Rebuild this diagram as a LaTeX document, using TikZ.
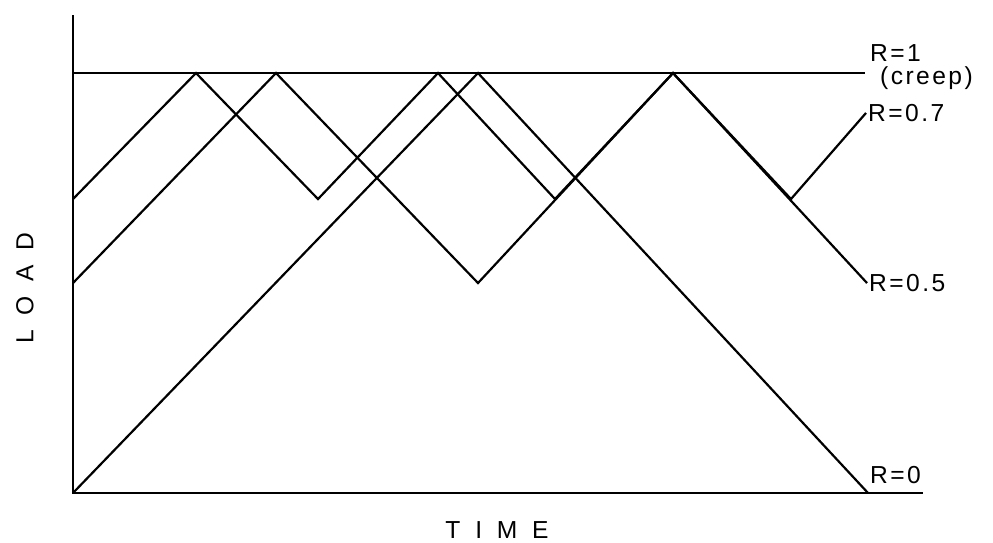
\documentclass[tikz,border=0pt]{standalone}
\usepackage{fontspec}
\setmainfont{Liberation Sans}
\newfontfamily\lblfont[LetterSpace=10]{Liberation Sans}
\newfontfamily\axfont[LetterSpace=60]{Liberation Sans}
\usetikzlibrary{positioning, calc}

\begin{document}
\begin{tikzpicture}[x=0.02cm, y=8.4cm,
  axis/.style={line width=1.5pt},
  ld/.style={line width=1.25pt, line join=miter},
  lbl/.style={font=\lblfont\fontsize{14}{16}\selectfont, inner sep=1pt},
  ax/.style={font=\axfont\fontsize{14}{16}\selectfont, inner sep=0pt}]
  \useasboundingbox (-73,-0.119) rectangle (920,1.174);
  % axes
  \coordinate (o) at (0,0);
  \coordinate (ytop) at (0,1.138);
  \coordinate (xend) at (850,0);
  \draw[axis] (ytop) -- (o) -- (xend);
  % ends of the load histories
  \coordinate (e1) at (792,1);
  \coordinate (e07) at (793,0.905);
  \coordinate (e05) at (794,0.5);
  \coordinate (e0) at (795,0);
  % R=1 (creep)
  \draw[ld] (0,1) -- (e1);
  % R=0.7
  \draw[ld] (0,0.7) -- (123,1) -- (245,0.7) -- (365,1) -- (482,0.7) -- (600,1) -- (718,0.7) -- (e07);
  % R=0.5
  \draw[ld] (0,0.5) -- (203,1) -- (405,0.5) -- (600,1) -- (e05);
  % R=0
  \draw[ld] (o) -- (405,1) -- (e0);
  % labels
  \node[lbl, anchor=west] (r1) at (795,1.048) {R=1};
  \node[lbl, anchor=west] (creep) at (805,0.988) {(creep)};
  \node[lbl, anchor=west] (r07) at (e07) {R=0.7};
  \node[lbl, anchor=west] (r05) at (e05) {R=0.5};
  \node[lbl, anchor=west] (r0) at (795,0.043) {R=0};
  \node[ax, rotate=90] (load) at (-48,0.488) {LOAD};
  \node[ax] (time) at (424,-0.088) {TIME};
\end{tikzpicture}
\end{document}
